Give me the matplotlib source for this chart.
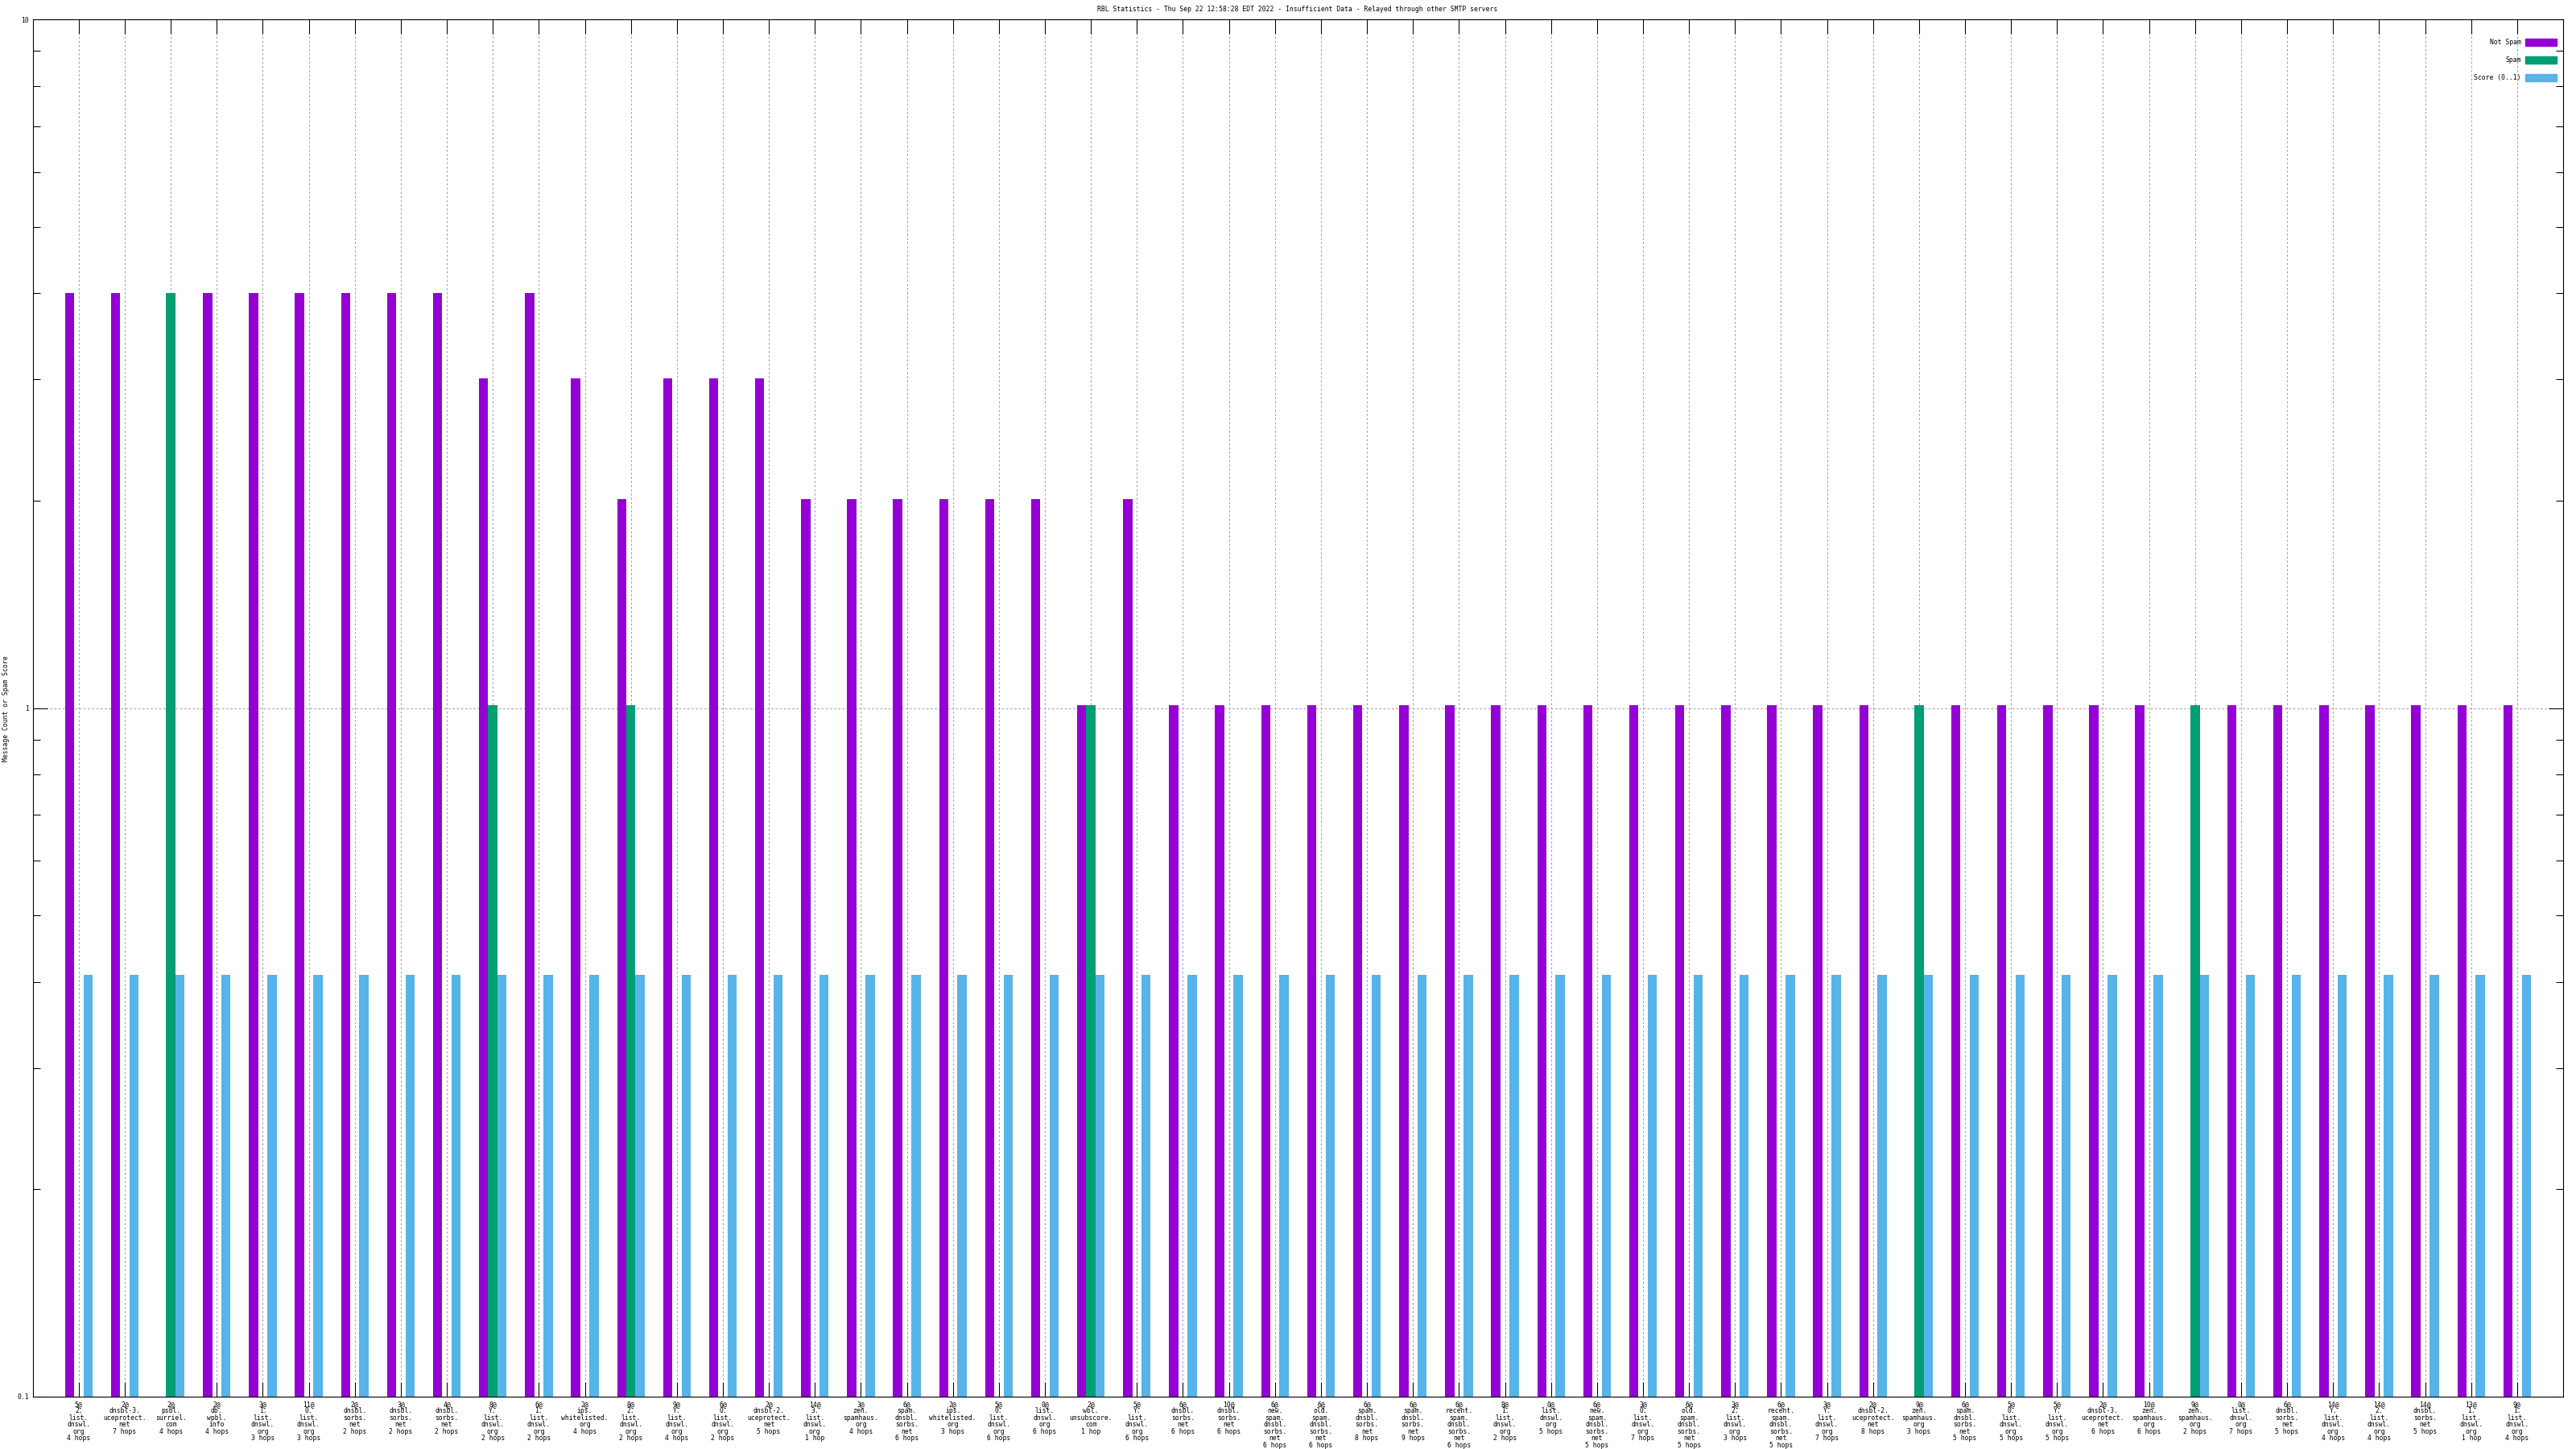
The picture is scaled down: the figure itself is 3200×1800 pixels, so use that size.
import numpy as np
import matplotlib
matplotlib.use('Agg')
import matplotlib.pyplot as plt
from matplotlib.patches import Patch

# one entry per histogram group: "<count>@<list> <hops>"
counts = [5, 2, 2, 2, 3, 11, 2, 3, 4, 8, 6, 2, 8, 9, 6, 2, 14, 3, 6, 2, 5, 0, 2, 5, 6, 10, 6,
          6, 6, 6, 6, 8, 0, 6, 3, 6, 3, 6, 3, 2, 9, 6, 5, 5, 2, 10, 9, 0, 6, 14, 14, 14, 13, 9]
hosts = ['2.list.dnswl.org', 'dnsbl-3.uceprotect.net', 'psbl.surriel.com', 'db.wpbl.info',
         '1.list.dnswl.org', '0.list.dnswl.org', 'dnsbl.sorbs.net', 'dnsbl.sorbs.net',
         'dnsbl.sorbs.net', 'Y.list.dnswl.org', '1.list.dnswl.org', 'ips.whitelisted.org',
         '2.list.dnswl.org', 'Y.list.dnswl.org', '0.list.dnswl.org', 'dnsbl-2.uceprotect.net',
         '3.list.dnswl.org', 'zen.spamhaus.org', 'spam.dnsbl.sorbs.net', 'ips.whitelisted.org',
         '0.list.dnswl.org', 'list.dnswl.org', 'wbl.unsubscore.com', 'Y.list.dnswl.org',
         'dnsbl.sorbs.net', 'dnsbl.sorbs.net', 'new.spam.dnsbl.sorbs.net',
         'old.spam.dnsbl.sorbs.net', 'spam.dnsbl.sorbs.net', 'spam.dnsbl.sorbs.net',
         'recent.spam.dnsbl.sorbs.net', '1.list.dnswl.org', 'list.dnswl.org',
         'new.spam.dnsbl.sorbs.net', '0.list.dnswl.org', 'old.spam.dnsbl.sorbs.net',
         '2.list.dnswl.org', 'recent.spam.dnsbl.sorbs.net', 'Y.list.dnswl.org',
         'dnsbl-2.uceprotect.net', 'zen.spamhaus.org', 'spam.dnsbl.sorbs.net',
         '0.list.dnswl.org', 'Y.list.dnswl.org', 'dnsbl-3.uceprotect.net', 'zen.spamhaus.org',
         'zen.spamhaus.org', 'list.dnswl.org', 'dnsbl.sorbs.net', 'Y.list.dnswl.org',
         '2.list.dnswl.org', 'dnsbl.sorbs.net', '1.list.dnswl.org', '1.list.dnswl.org']
hops = [4, 7, 4, 4, 3, 3, 2, 2, 2, 2, 2, 4, 2, 4, 2, 5, 1, 4, 6, 3, 6, 6, 1, 6, 6, 6, 6,
        6, 8, 9, 6, 2, 5, 5, 7, 5, 3, 5, 7, 8, 3, 5, 5, 5, 6, 6, 2, 7, 5, 4, 4, 5, 1, 4]

not_spam = [4, 4, 0, 4, 4, 4, 4, 4, 4, 3, 4, 3, 2, 3, 3, 3, 2, 2, 2, 2, 2, 2, 1, 2, 1, 1, 1,
            1, 1, 1, 1, 1, 1, 1, 1, 1, 1, 1, 1, 1, 0, 1, 1, 1, 1, 1, 0, 1, 1, 1, 1, 1, 1, 1]
spam = [0, 0, 4, 0, 0, 0, 0, 0, 0, 1, 0, 0, 1, 0, 0, 0, 0, 0, 0, 0, 0, 0, 1, 0, 0, 0, 0,
        0, 0, 0, 0, 0, 0, 0, 0, 0, 0, 0, 0, 0, 1, 0, 0, 0, 0, 0, 1, 0, 0, 0, 0, 0, 0, 0]
score = [0.4] * 54

title = ('RBL Statistics - Thu Sep 22 12:58:28 EDT 2022 - Insufficient Data - '
         'Relayed through other SMTP servers')


def make_label(c, host, h):
    parts = host.split('.')
    lines = [f'{c}@'] + [p + '.' for p in parts[:-1]] + [parts[-1]]
    lines.append(f'{h} hop' if h == 1 else f'{h} hops')
    return '\n'.join(lines)


labels = [make_label(c, s, h) for c, s, h in zip(counts, hosts, hops)]

plt.rcParams['font.family'] = ['DejaVu Sans Mono']
fs = 5.8

fig = plt.figure(figsize=(32, 18), dpi=100)
ax = fig.add_axes([40.7 / 3200, 1 - 1735 / 1800, (3184 - 40.7) / 3200, (1735 - 24) / 1800])

x = np.arange(len(labels))
w = 0.2
ns = np.array(not_spam, dtype=float)
sp = np.array(spam, dtype=float)
ns[ns == 0] = np.nan
sp[sp == 0] = np.nan
ax.bar(x - w, ns, w, bottom=0.01, color='#9400D3', label='Not Spam', zorder=2)
ax.bar(x, sp, w, bottom=0.01, color='#009E73', label='Spam', zorder=2)
ax.bar(x + w, score, w, bottom=0.01, color='#56B4E9', label='Score (0..1)', zorder=2)

ax.set_yscale('log')
ax.set_ylim(0.1, 10)
ax.set_xlim(-1, 54)
ax.set_xticks(x)
ax.set_xticklabels(labels, fontsize=fs, linespacing=0.93, va='top')
ax.set_yticks([0.1, 1, 10])
ax.set_yticklabels(['0.1', '1', '10'], fontsize=fs)
ax.yaxis.set_minor_locator(matplotlib.ticker.LogLocator(base=10, subs=np.arange(2, 10)))
ax.yaxis.set_minor_formatter(matplotlib.ticker.NullFormatter())

ax.tick_params(axis='both', which='major', direction='in', length=13, width=0.75,
               top=True, right=True, pad=3.5)
ax.tick_params(axis='y', which='minor', direction='in', length=6.5, width=0.75, right=True)
ax.tick_params(axis='x', which='minor', bottom=False, top=False)

ax.grid(True, axis='both', which='major', color='#a0a0a0', linestyle=(0, (2.5, 2.5)),
        lw=0.75, zorder=1)
for s in ax.spines.values():
    s.set_linewidth(0.8)

fig.text(7.5 / 3200, 1 - 880 / 1800, 'Message Count or Spam Score', rotation=90,
         ha='center', va='center', fontsize=fs)
fig.text(1612 / 3200, 1 - 11 / 1800, title, ha='center', va='center', fontsize=fs)

handles = [Patch(color='#9400D3'), Patch(color='#009E73'), Patch(color='#56B4E9')]
ax.legend(handles, ['Not Spam', 'Spam', 'Score (0..1)'], loc='upper right',
          frameon=False, markerfirst=False, fontsize=fs, handlelength=4.9,
          handleheight=1.4, labelspacing=1.55, handletextpad=0.6,
          borderaxespad=0, bbox_to_anchor=(3176 / 3200, 1 - 48 / 1800),
          bbox_transform=fig.transFigure, borderpad=0)

fig.savefig('out.png', dpi=100)
